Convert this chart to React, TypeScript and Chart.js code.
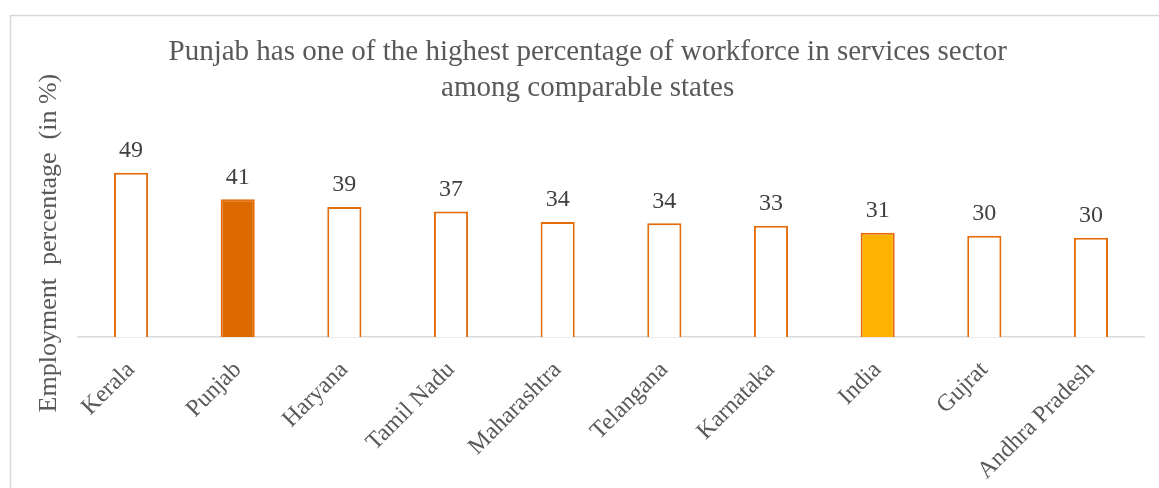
import { useEffect, useRef } from "react";
import { Chart, registerables } from "chart.js";

Chart.register(...registerables);

const categories = [
  "Kerala",
  "Punjab",
  "Haryana",
  "Tamil Nadu",
  "Maharashtra",
  "Telangana",
  "Karnataka",
  "India",
  "Gujrat",
  "Andhra Pradesh",
];
const values = [49.0, 41.1, 38.8, 37.4, 34.3, 33.9, 33.2, 31.1, 30.2, 29.6];
const fillColors = [
  "#FFFFFF",
  "#DC6A00",
  "#FFFFFF",
  "#FFFFFF",
  "#FFFFFF",
  "#FFFFFF",
  "#FFFFFF",
  "#FFB300",
  "#FFFFFF",
  "#FFFFFF",
];
const titleLines = [
  "Punjab has one of the highest percentage of workforce in services sector",
  "among comparable states",
];
const yAxisTitle = "Employment  percentage  (in %)";

const FONT = "'Liberation Serif', 'Times New Roman', serif";

const framePlugin = {
  id: "frame",
  beforeDraw(chart: any) {
    const ctx = chart.ctx;
    ctx.save();
    ctx.fillStyle = "#FFFFFF";
    ctx.fillRect(0, 0, chart.width, chart.height);
    ctx.strokeStyle = "#D9D9D9";
    ctx.lineWidth = 1.5;
    ctx.strokeRect(10.5, 15.5, 1200, 600);
    ctx.restore();
  },
};

const valueLabelPlugin = {
  id: "valueLabels",
  afterDatasetsDraw(chart: any) {
    const ctx = chart.ctx;
    const meta = chart.getDatasetMeta(0);
    const data = chart.data.datasets[0].data as number[];
    ctx.save();
    ctx.fillStyle = "#404040";
    ctx.font = `24px ${FONT}`;
    ctx.textAlign = "center";
    ctx.textBaseline = "alphabetic";
    meta.data.forEach((bar: any, i: number) => {
      ctx.fillText(String(Math.round(data[i])), bar.x, bar.y - 15.5);
    });
    ctx.restore();
  },
};

export default function App() {
  const canvasRef = useRef<HTMLCanvasElement | null>(null);

  useEffect(() => {
    if (!canvasRef.current) return;
    const chart = new Chart(canvasRef.current, {
      type: "bar",
      data: {
        labels: categories,
        datasets: [
          {
            data: values,
            backgroundColor: fillColors,
            borderColor: "#E46C0A",
            borderWidth: 2,
            barPercentage: 0.32,
            categoryPercentage: 1,
          },
        ],
      },
      options: {
        animation: false,
        responsive: false,
        maintainAspectRatio: false,
        devicePixelRatio: 1,
        layout: { padding: { left: 31, right: 14.7, top: 0, bottom: 0 } },
        plugins: {
          legend: { display: false },
          tooltip: { enabled: false },
          title: {
            display: true,
            text: titleLines,
            color: "#595959",
            font: { family: FONT, size: 29, weight: "normal", lineHeight: 36 / 29 },
            padding: { top: 34.2, bottom: 43 },
          },
        },
        scales: {
          x: {
            grid: { display: false, drawTicks: false },
            border: { display: true, color: "#D9D9D9", width: 1.5 },
            ticks: {
              color: "#595959",
              font: { family: FONT, size: 24 },
              minRotation: 45,
              maxRotation: 45,
              autoSkip: false,
              padding: 19,
            },
            afterFit(scale: any) {
              scale.height = 151;
            },
          },
          y: {
            min: 0,
            max: 56,
            grid: { display: false, drawTicks: false },
            border: { display: false },
            ticks: { display: false },
            title: {
              display: true,
              text: yAxisTitle,
              color: "#595959",
              font: { family: FONT, size: 26, weight: "normal" },
              padding: { top: 3, bottom: 0 },
            },
            afterFit(scale: any) {
              scale.width = 46.7;
            },
          },
        },
      },
      plugins: [framePlugin, valueLabelPlugin],
    });
    return () => chart.destroy();
  }, []);

  return (
    <div style={{ position: "fixed", left: 0, top: 0, width: 1159, height: 488, background: "#fff" }}>
      <canvas ref={canvasRef} width={1159} height={488} style={{ display: "block", width: 1159, height: 488 }} />
    </div>
  );
}
